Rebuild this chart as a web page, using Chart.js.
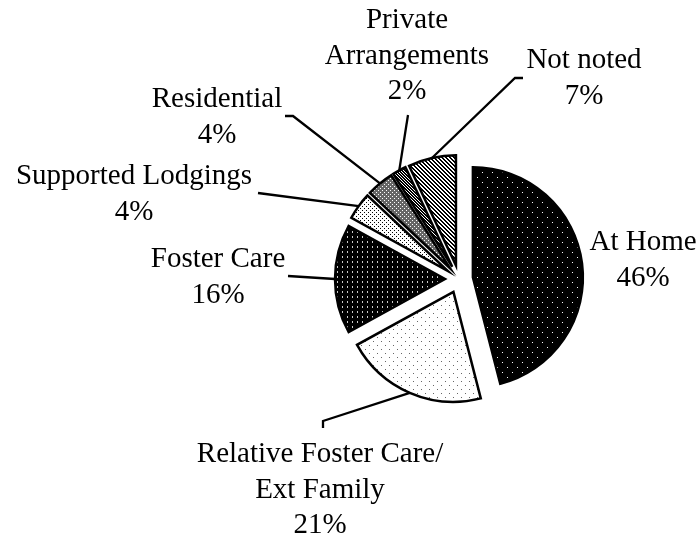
<!DOCTYPE html>
<html>
<head>
<meta charset="utf-8">
<script src="https://cdn.jsdelivr.net/npm/chart.js@4"></script>
<style>
  html, body { margin: 0; padding: 0; background: #fff; }
  #wrap { width: 699px; height: 536px; }
</style>
</head>
<body>
<div id="wrap"><canvas id="chart" width="699" height="536"></canvas></div>
<script>
// --- DATA ---
const categories = [
    "At Home",
    "Relative Foster Care/\nExt Family",
    "Foster Care",
    "Supported Lodgings",
    "Residential",
    "Private\nArrangements",
    "Not noted"
];
const percentages = [46, 21, 16, 4, 4, 2, 7];

// --- LABEL LAYOUT (text centre x, first baseline y) and leader start points ---
const labelPos = [
    [643, 250],
    [320, 462],
    [218, 267],
    [134, 184],
    [217, 107],
    [407, 28],
    [584, 68]
];
const leaderStart = [
    null,
    [[323, 428], [323, 421]],
    [[288, 276]],
    [[258, 193]],
    [[285, 116], [293, 116]],
    [[408, 115]],
    [[523, 78], [515, 78]]
];

// how far every slice is pulled out of the pie, px
const EXPLODE = 14;

// --- PATTERNS ---
function makePattern(size, bg, paint) {
    const c = document.createElement('canvas');
    c.width = size;
    c.height = size;
    const g = c.getContext('2d');
    g.fillStyle = bg;
    g.fillRect(0, 0, size, size);
    paint(g, size);
    return g.createPattern(c, 'repeat');
}

function dots(color, pts, w = 1, h = 1) {
    return (g) => {
        g.fillStyle = color;
        pts.forEach(p => g.fillRect(p[0], p[1], w, h));
    };
}

function diagonal(color, width) {
    return (g, s) => {
        g.fillStyle = color;
        for (let i = 0; i < s; i++) {
            for (let k = 0; k < width; k++) {
                g.fillRect((i + k) % s, i, 1, 1);
            }
        }
    };
}

const fills = [
    makePattern(10, '#000', dots('#fff', [[2, 2], [7, 7]])),            // At Home
    makePattern(8, '#fff', dots('#666', [[1, 1], [5, 5]])),             // Relative
    makePattern(5, '#000', dots('#ccc', [[2, 1]], 1, 2)),               // Foster Care
    makePattern(4, '#fff', dots('#000', [[0, 0], [2, 2]])),             // Supported
    makePattern(4, '#666', dots('#fff', [[0, 0], [2, 2]])),             // Residential
    makePattern(3, '#fff', diagonal('#000', 2)),                        // Private
    makePattern(4, '#fff', diagonal('#000', 2))                         // Not noted
];

// --- EXPLODE: shift every arc outward along its mid angle (same radius) ---
// (the built-in offset also grows the radius of wide slices, so do it here)
const explodePlugin = {
    id: 'explode',
    afterDatasetUpdate(chart, args) {
        const meta = chart.getDatasetMeta(args.index);
        meta.data.forEach(arc => {
            const mid = (arc.startAngle + arc.endAngle) / 2;
            arc.x += Math.cos(mid) * EXPLODE;
            arc.y += Math.sin(mid) * EXPLODE;
        });
    }
};

// --- LABELS + LEADER LINES ---
const FONT_SIZE = 29;
const LINE_H = 35.5;

const labelPlugin = {
    id: 'pieLabels',
    afterDatasetsDraw(chart) {
        const ctx = chart.ctx;
        const arcs = chart.getDatasetMeta(0).data;
        ctx.save();

        // leader lines
        ctx.strokeStyle = '#000';
        ctx.lineWidth = 2.3;
        ctx.lineJoin = 'miter';
        arcs.forEach((arc, i) => {
            const pts = leaderStart[i];
            if (!pts) return;
            const mid = (arc.startAngle + arc.endAngle) / 2;
            const r = arc.outerRadius;
            ctx.beginPath();
            ctx.moveTo(pts[0][0], pts[0][1]);
            for (let k = 1; k < pts.length; k++) ctx.lineTo(pts[k][0], pts[k][1]);
            ctx.lineTo(arc.x + Math.cos(mid) * r, arc.y + Math.sin(mid) * r);
            ctx.stroke();
        });

        // text
        ctx.fillStyle = '#000';
        ctx.font = FONT_SIZE + 'px "Liberation Serif", serif';
        ctx.textAlign = 'center';
        ctx.textBaseline = 'alphabetic';
        categories.forEach((name, i) => {
            const lines = name.split('\n').concat([percentages[i] + '%']);
            const [x, y] = labelPos[i];
            lines.forEach((t, k) => ctx.fillText(t, x, y + k * LINE_H));
        });
        ctx.restore();
    }
};

// --- CHART ---
new Chart(document.getElementById('chart'), {
    type: 'pie',
    data: {
        labels: categories,
        datasets: [{
            data: percentages,
            backgroundColor: fills,
            borderColor: '#000',
            borderWidth: 2.5,
            borderJoinStyle: 'miter',
            offset: 0,
            hoverOffset: 0,
            radius: 110
        }]
    },
    options: {
        responsive: false,
        animation: false,
        events: [],
        layout: { padding: { left: 300, right: 81, top: 100, bottom: 78 } },
        plugins: {
            legend: { display: false },
            tooltip: { enabled: false }
        }
    },
    plugins: [explodePlugin, labelPlugin]
});
</script>
</body>
</html>
